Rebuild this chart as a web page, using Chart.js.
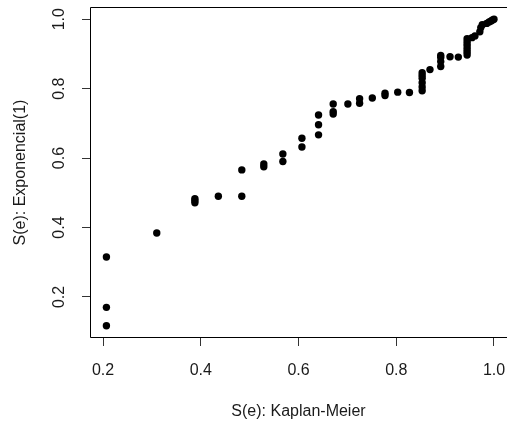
<!DOCTYPE html>
<html>
<head>
<meta charset="utf-8">
<script src="https://cdn.jsdelivr.net/npm/chart.js@4/dist/chart.umd.min.js"></script>
<style>
  html, body { margin: 0; padding: 0; background: #fff; overflow: hidden; }
  canvas { display: block; }
</style>
</head>
<body>
<canvas id="qqPlot" width="507" height="423"></canvas>
<script>
// Kaplan-Meier survival estimate vs. fitted Exponential(1) survival
var kmSurv = [
  0.207, 0.207, 0.207, 0.310, 0.388, 0.388, 0.388, 0.436, 0.484, 0.484,
  0.529, 0.529, 0.568, 0.568, 0.607, 0.607, 0.641, 0.641, 0.641, 0.671,
  0.671, 0.671, 0.701, 0.725, 0.725, 0.751, 0.777, 0.777, 0.803, 0.827,
  0.853, 0.853, 0.853, 0.853, 0.853, 0.853, 0.869, 0.891, 0.891, 0.891,
  0.891, 0.910, 0.927, 0.945, 0.945, 0.945, 0.945, 0.945, 0.945, 0.945,
  0.955, 0.961, 0.971, 0.973, 0.976, 0.985, 0.990, 0.994, 0.997, 1.000
];
var expSurv = [
  0.315, 0.170, 0.117, 0.384, 0.483, 0.477, 0.471, 0.490, 0.490, 0.566,
  0.583, 0.575, 0.612, 0.590, 0.657, 0.632, 0.724, 0.696, 0.667, 0.756,
  0.734, 0.727, 0.756, 0.771, 0.758, 0.773, 0.787, 0.780, 0.790, 0.789,
  0.846, 0.838, 0.830, 0.817, 0.805, 0.794, 0.855, 0.896, 0.890, 0.878,
  0.864, 0.892, 0.891, 0.944, 0.936, 0.928, 0.920, 0.912, 0.905, 0.897,
  0.947, 0.952, 0.964, 0.976, 0.984, 0.988, 0.992, 0.995, 0.998, 1.000
];
var xTicks = [0.2, 0.4, 0.6, 0.8, 1.0];
var yTicks = [0.2, 0.4, 0.6, 0.8, 1.0];

var points = kmSurv.map(function (v, i) { return { x: v, y: expSurv[i] }; });

var font = { family: '"Liberation Sans", Arial, sans-serif', size: 16 };
var ink = '#1a1a1a';

// frame round the plotting region: top, left and bottom sides
// (the plot region runs on past the right edge of the canvas)
var frame = {
  id: 'frame',
  afterDraw: function (chart) {
    var a = chart.chartArea, c = chart.ctx;
    c.save();
    c.strokeStyle = '#000';
    c.lineWidth = 1;
    c.beginPath();
    c.moveTo(a.right, a.top + 0.5);
    c.lineTo(a.left + 0.5, a.top + 0.5);
    c.lineTo(a.left + 0.5, a.bottom - 0.5);
    c.lineTo(a.right, a.bottom - 0.5);
    c.stroke();
    c.restore();
  }
};

new Chart(document.getElementById('qqPlot'), {
  type: 'scatter',
  data: {
    datasets: [{
      data: points,
      backgroundColor: '#000',
      borderWidth: 0,
      pointRadius: 3.7,
      pointHoverRadius: 3.7
    }]
  },
  options: {
    responsive: false,
    animation: false,
    devicePixelRatio: 1,
    layout: { autoPadding: false, padding: { top: 7, left: 0, right: 0, bottom: 0 } },
    plugins: { legend: { display: false }, tooltip: { enabled: false } },
    scales: {
      x: {
        type: 'linear',
        min: 0.1734,
        max: 1.0266,
        afterBuildTicks: function (s) { s.ticks = xTicks.map(function (v) { return { value: v }; }); },
        afterFit: function (s) { s.height = 85; s.paddingLeft = 0; s.paddingRight = 0; },
        border: { display: false },
        grid: { drawOnChartArea: false, drawTicks: true, tickLength: 8, color: '#333' },
        ticks: {
          color: ink, font: font, padding: 15, maxRotation: 0, autoSkip: false,
          callback: function (v) { return v.toFixed(1); }
        },
        title: { display: true, text: 'S(e): Kaplan-Meier', color: ink, font: font, padding: { top: 0, bottom: 2 } }
      },
      y: {
        type: 'linear',
        min: 0.0817,
        max: 1.0353,
        afterBuildTicks: function (s) { s.ticks = yTicks.map(function (v) { return { value: v }; }); },
        afterFit: function (s) { s.width = 90; s.paddingTop = 0; s.paddingBottom = 0; },
        border: { display: false },
        grid: { drawOnChartArea: false, drawTicks: true, tickLength: 8, color: '#333' },
        ticks: {
          color: ink, font: font, padding: 11, minRotation: 90, maxRotation: 90,
          crossAlign: 'center', autoSkip: false,
          callback: function (v) { return v.toFixed(1); }
        },
        title: { display: true, text: 'S(e): Exponencial(1)', color: ink, font: font, padding: { top: 11, bottom: 0 } }
      }
    }
  },
  plugins: [frame]
});
</script>
</body>
</html>
